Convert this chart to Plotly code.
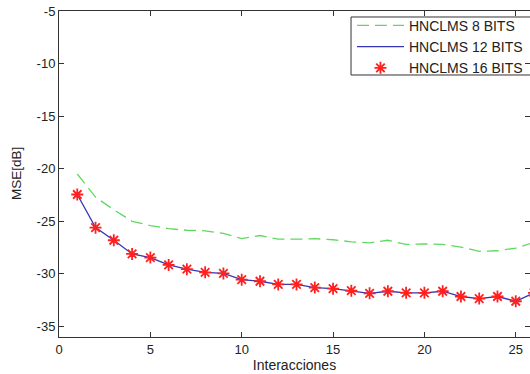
import plotly.graph_objects as go

iters = list(range(1, 27))
mse_8 = [-20.5, -22.7, -23.9, -25.0, -25.4, -25.7, -25.85, -25.9, -26.15, -26.65,
         -26.35, -26.7, -26.7, -26.65, -26.75, -26.95, -27.05, -26.8, -27.2, -27.15,
         -27.2, -27.45, -27.85, -27.8, -27.55, -27.0]
mse_12 = [-22.45, -25.6, -26.8, -28.1, -28.45, -29.15, -29.55, -29.85, -29.95, -30.55,
          -30.7, -31.0, -31.0, -31.3, -31.4, -31.6, -31.85, -31.65, -31.8, -31.8,
          -31.65, -32.15, -32.35, -32.15, -32.6, -31.8]
mse_16 = [-22.45, -25.6, -26.8, -28.1, -28.45, -29.15, -29.55, -29.85, -29.95, -30.55,
          -30.7, -31.0, -31.0, -31.3, -31.4, -31.6, -31.85, -31.65, -31.8, -31.8,
          -31.65, -32.15, -32.35, -32.15, -32.6, -31.8]
names = ["HNCLMS 8 BITS", "HNCLMS 12 BITS", "HNCLMS 16 BITS"]
x_ticks = [0, 5, 10, 15, 20, 25]
x_tick_text = ["0", "5", "10", "15", "20", "25"]
y_ticks = [-35, -30, -25, -20, -15, -10, -5]
y_tick_text = ["-35", "-30", "-25", "-20", "-15", "-10", "-5"]

font = "Liberation Sans, Arial, sans-serif"

fig = go.Figure()
fig.add_trace(go.Scatter(x=iters, y=mse_8, mode="lines", name=names[0],
                         line=dict(color="#62d862", width=1.3, dash="12px,6px")))
fig.add_trace(go.Scatter(x=iters, y=mse_12, mode="lines", name=names[1],
                         line=dict(color="#3535b5", width=1.3)))
fig.add_trace(go.Scatter(x=iters, y=mse_16, mode="markers", name=names[2],
                         marker=dict(symbol="asterisk-open", size=10, color="#ff2020",
                                     line=dict(color="#ff2020", width=1.8))))

axis_common = dict(showline=True, linecolor="#333333", linewidth=1, mirror="ticks",
                   ticks="inside", ticklen=5, tickcolor="#333333", showgrid=False,
                   zeroline=False, automargin=False, ticklabeloverflow="allow",
                   tickfont=dict(family=font, size=13, color="#222222"))

fig.update_xaxes(range=[0, 25.78], tickvals=x_ticks, ticktext=x_tick_text,
                 title=dict(text="Interacciones", font=dict(family=font, size=14, color="#222222"),
                            standoff=0),
                 **axis_common)
fig.update_yaxes(range=[-36, -5], tickvals=y_ticks, ticktext=y_tick_text,
                 **axis_common)

fig.add_annotation(text="MSE[dB]", xref="paper", yref="paper", x=0, y=0.5,
                   xanchor="center", yanchor="middle", xshift=-43, textangle=-90,
                   showarrow=False, font=dict(family=font, size=13.5, color="#222222"))

# legend frame (box runs off the right edge like the reference)
fig.add_shape(type="rect", xref="paper", yref="paper", x0=0.62, x1=1.05,
              y0=0.8037, y1=0.9816, line=dict(color="#333333", width=1),
              fillcolor="white", layer="below")

fig.update_layout(
    width=530, height=374,
    margin=dict(l=59, r=0, t=11, b=37, autoexpand=False),
    plot_bgcolor="white", paper_bgcolor="white",
    font=dict(family=font, size=13, color="#222222"),
    legend=dict(x=0.622, y=1.0035, xanchor="left", yanchor="top",
                borderwidth=0, bgcolor="rgba(0,0,0,0)",
                font=dict(family=font, size=14, color="#222222"),
                tracegroupgap=0, itemwidth=47),
    showlegend=True,
)

fig.write_html("out.html", config={"displayModeBar": False},
               post_script="document.body.style.margin='0';"
                           "document.body.style.overflow='hidden';")
